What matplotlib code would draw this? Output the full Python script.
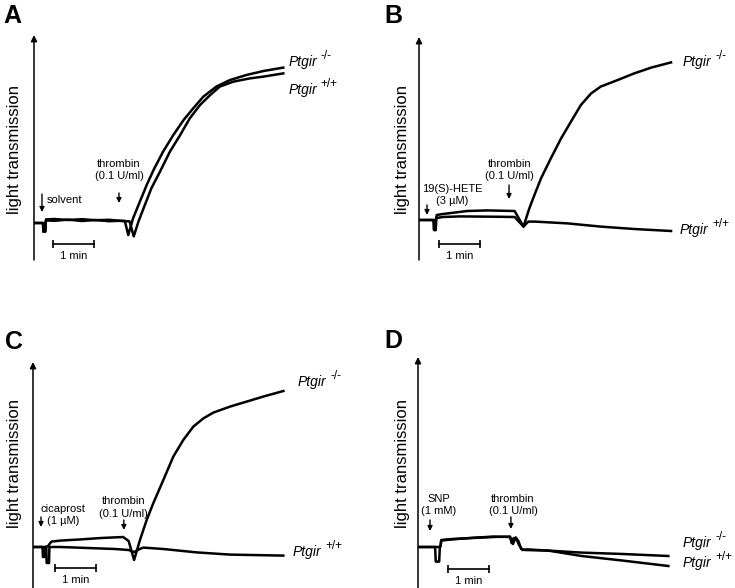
import matplotlib
matplotlib.use('Agg')
import matplotlib.pyplot as plt

plt.rcParams['font.family'] = ['Liberation Sans', 'DejaVu Sans']

# traces: time (s) vs light transmission (% of max, arbitrary)
a_ko_t = [0, 12.7, 13.2, 13.7, 16.5, 17.2, 17.6, 30, 50, 70, 90, 110, 125, 133, 138, 145, 155, 165, 175,
          189, 204, 219, 233, 248, 267, 287, 311, 336, 365]
a_ko_v = [-0.5, -0.5, -0.5, -4.8, -4.8, 0, 1.3, 1.5, 1.0, 1.4, 0.9, 1.1, 0.6, 0.5, -6.5, 1.8, 10.2, 18.5, 26,
          35.2, 43.5, 51, 56.8, 62.7, 67.7, 71, 73.5, 75.5, 77.2]
a_wt_t = [0, 12.7, 13.2, 13.7, 16.5, 17.2, 17.6, 30, 50, 70, 90, 110, 125, 140, 146, 153, 162.5, 172, 184.5,
          199, 214, 228, 243, 258, 272, 292, 316, 336, 365]
a_wt_v = [-0.5, -0.5, -0.5, -4.8, -4.8, 0, 0.8, 0.6, 1.2, 0.5, 1.0, 0.4, 0.6, 0.3, -7.2, 0.3, 8.7, 17, 25.2,
          35.2, 43.5, 51.8, 58.5, 63.5, 67.7, 70.2, 71.8, 72.7, 74.3]

b_ko_t = [0, 20, 21.5, 22, 24.5, 25, 26, 35, 47, 71, 100, 125, 140, 153, 161.5, 169, 178.6, 193, 208,
          222.5, 237, 252, 266, 291, 315, 340, 369]
b_ko_v = [0, 0, 0, -5, -5, 1, 2.5, 3.0, 3.5, 4.5, 4.8, 4.6, 4.5, -3.3, 5.8, 12.5, 20.8, 30.8, 40.8,
          49.2, 57.5, 63.3, 66.7, 70, 73.3, 76.2, 78.8]
b_wt_t = [0, 20, 21.5, 22, 24.5, 25, 26, 35, 60, 90, 120, 140, 153, 160, 170, 217.6, 266, 315, 369]
b_wt_v = [0, 0, 0, -5, -5, 0, 1.0, 1.5, 1.8, 1.7, 1.6, 1.5, -3.3, -0.8, -0.8, -1.7, -3.3, -4.5, -5.5]

c_ko_t = [0, 14, 14.5, 17.5, 18, 22, 27, 40, 70, 100, 132, 140, 148, 156.6, 166.4, 176, 190.8, 205.4,
          220, 234.7, 249.4, 264, 288.4, 312.8, 337, 366.5]
c_ko_v = [0, 0, -5, -5, 0, 0.5, 2.7, 3.2, 3.8, 4.5, 5, 3, -6.5, 3.5, 13.5, 21.8, 33.5, 45.2,
          53.5, 60.2, 64.3, 67.2, 70.2, 72.7, 75.2, 78]
c_wt_t = [0, 19.5, 20, 23.5, 24, 40, 80, 120, 140, 148, 155, 161.5, 190.8, 239.6, 288.4, 366.5]
c_wt_v = [0, 0, -8, -8, 0, 0, -0.5, -1, -1.5, -2.5, -1.2, -0.3, -1, -2.7, -3.8, -4.3]

d_ko_t = [0, 25, 32, 33, 34, 50, 80, 110, 134.7, 137, 140, 144, 148, 153, 160, 190.8, 239.6, 300, 366.5]
d_ko_v = [0, 0, 0, 0.5, 3.5, 4, 4.5, 5, 5.2, 2, 4.5, 4.0, 1, -1.5, -1.2, -1.8, -2.8, -3.5, -4.5]
d_wt_t = [0, 25, 26, 31, 32, 33, 34, 50, 80, 110, 134.7, 139, 143, 147, 151, 156.6, 190.8, 239.6, 300, 366.5]
d_wt_v = [0, 0, -7.3, -7.3, 0, 0.3, 3.2, 3.8, 4.6, 5.2, 5.0, 1.5, 4.8, 3.0, -1.0, -1.5, -1.8, -4.5, -6.8, -9.5]

panel_letters = ['A', 'B', 'C', 'D']
agonist_labels = ['solvent', '19(S)-HETE\n(3 µM)', 'cicaprost\n(1 µM)', 'SNP\n(1 mM)']
thrombin_label = 'thrombin\n(0.1 U/ml)'

SEC_PER_PX = 1.464
UNIT_PER_PX = 0.5
W, H = 735, 588

fig = plt.figure(figsize=(7.35, 5.88), dpi=100)


def add_panel(x0, top, bottom, base, width_px=330):
    ax = fig.add_axes([x0 / W, 1 - bottom / H, width_px / W, (bottom - top) / H])
    ax.set_xlim(0, width_px * SEC_PER_PX)
    ax.set_ylim((base - bottom) * UNIT_PER_PX, (base - top) * UNIT_PER_PX)
    ax.axis('off')
    ax.patch.set_alpha(0)
    # y axis with arrow head
    ax.annotate('', xy=(0, 1), xytext=(0, 0), xycoords='axes fraction',
                arrowprops=dict(arrowstyle='-|>', lw=1.1, color='k', mutation_scale=9,
                                shrinkA=0, shrinkB=0))
    return ax


def down_arrow(ax, t, v_top, v_tip):
    ax.annotate('', xy=(t, v_tip), xytext=(t, v_top),
                arrowprops=dict(arrowstyle='-|>', lw=1.0, color='k', mutation_scale=7,
                                shrinkA=0, shrinkB=0))


def scale_bar(ax, t0, v):
    ax.plot([t0, t0 + 60], [v, v], color='k', lw=1.2, marker='|', markersize=6, mew=1.2)
    ax.text(t0 + 30, v - 3.5, '1 min', ha='center', va='top', fontsize=8)


def ptgir(ax, t, v, geno):
    txt = ax.text(t, v, 'Ptgir', style='italic', fontsize=10, ha='left', va='center')
    ax.annotate(geno, xy=(1, 0.95), xycoords=txt, xytext=(2.5, 0), textcoords='offset points',
                fontsize=8.5, ha='left', va='center')


def ylabel(x, y):
    fig.text(x / W, 1 - y / H, 'light transmission', rotation=90, ha='center', va='center', fontsize=12)


# panel A
ax = add_panel(34, 35, 260, 222)
ax.plot(a_ko_t, a_ko_v, color='k', lw=1.8)
ax.plot(a_wt_t, a_wt_v, color='k', lw=1.8)
down_arrow(ax, 11.7, 14, 5)
ax.text(19, 11, agonist_labels[0], ha='left', va='center', fontsize=8)
ax.text(124.4, 26, thrombin_label, ha='center', va='center', fontsize=8, linespacing=1.3)
down_arrow(ax, 124.4, 14.5, 9.5)
scale_bar(ax, 27.8, -11)
ptgir(ax, 372, 80, '-/-')
ptgir(ax, 372, 66, '+/+')

# panel B
ax = add_panel(419, 37, 260, 220)
ax.plot(b_ko_t, b_ko_v, color='k', lw=1.8)
ax.plot(b_wt_t, b_wt_v, color='k', lw=1.8)
down_arrow(ax, 11.7, 7.5, 2.5)
ax.text(48.3, 12.5, agonist_labels[1], ha='center', va='center', fontsize=8, linespacing=1.3)
ax.text(133, 25, thrombin_label, ha='center', va='center', fontsize=8, linespacing=1.3)
down_arrow(ax, 131.8, 17.5, 10.5)
scale_bar(ax, 29.3, -12)
ptgir(ax, 386.5, 79, '-/-')
ptgir(ax, 382, -5, '+/+')

# panel C
ax = add_panel(33, 362, 588, 547)
ax.plot(c_ko_t, c_ko_v, color='k', lw=1.8)
ax.plot(c_wt_t, c_wt_v, color='k', lw=1.8)
down_arrow(ax, 11.7, 15, 10)
ax.text(44, 16, agonist_labels[2], ha='center', va='center', fontsize=8, linespacing=1.3)
ax.text(133, 19.75, thrombin_label, ha='center', va='center', fontsize=8, linespacing=1.3)
down_arrow(ax, 133, 13.5, 8.5)
scale_bar(ax, 32, -10.5)
ptgir(ax, 388, 82.5, '-/-')
ptgir(ax, 380.6, -2.5, '+/+')

# panel D
ax = add_panel(418, 357, 588, 547)
ax.plot(d_ko_t, d_ko_v, color='k', lw=1.8)
ax.plot(d_wt_t, d_wt_v, color='k', lw=1.8)
down_arrow(ax, 17.6, 13.5, 8)
ax.text(30.7, 21, agonist_labels[3], ha='center', va='center', fontsize=8, linespacing=1.3)
ax.text(139, 21, thrombin_label, ha='center', va='center', fontsize=8, linespacing=1.3)
down_arrow(ax, 136, 15, 9)
scale_bar(ax, 44, -11)
ptgir(ax, 388, 2, '-/-')
ptgir(ax, 388, -8, '+/+')

for x, y in [(15, 149), (403, 149), (15, 464), (403, 464)]:
    ylabel(x, y)

for letter, (x, y) in zip(panel_letters, [(3, 16), (384, 16), (5, 342), (384, 341)]):
    fig.text(x / W, 1 - y / H, letter, fontsize=18, fontweight='bold', ha='left', va='center')

fig.savefig('out.png', dpi=100)
